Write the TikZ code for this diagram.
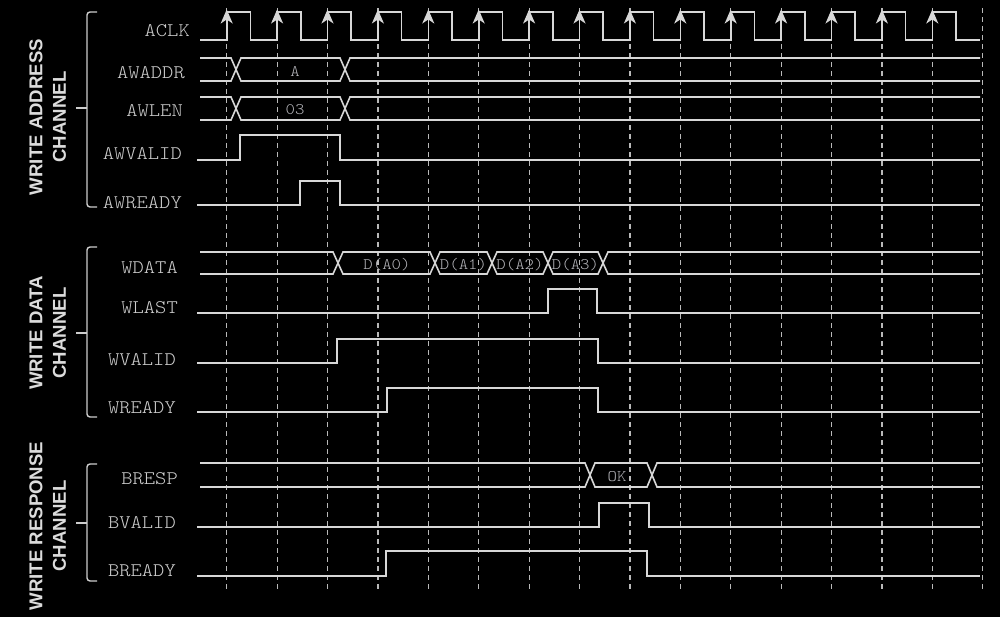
\documentclass[tikz,border=0pt]{standalone}
\usepackage{fontspec}
\newfontfamily\monolt{lmmonolt10-regular}[Extension=.otf,FakeStretch=1.12]
\newfontfamily\chfont{Liberation Sans}
\usetikzlibrary{arrows.meta}
\definecolor{wave}{RGB}{215,215,215}
\definecolor{lbl}{RGB}{205,205,205}
\definecolor{sublbl}{RGB}{180,180,185}
\definecolor{gridc}{RGB}{185,185,185}
\definecolor{chan}{RGB}{220,220,220}
\begin{document}
\begin{tikzpicture}[x=1pt,y=-1pt,
  wv/.style={draw=wave,line width=1.6pt,line join=miter},
  gridline/.style={draw=gridc,line width=1.2pt,dash pattern=on 5pt off 4pt},
  sig/.style={inner sep=0pt,text=lbl,font=\monolt\fontsize{19.2}{19.2}\selectfont,anchor=east},
  val/.style={inner sep=0pt,text=sublbl,font=\monolt\fontsize{16}{16}\selectfont},
  chn/.style={inner sep=0pt,text=chan,rotate=90,align=center,font=\chfont\bfseries\fontsize{18.6}{23.5}\selectfont},
  brk/.style={draw=lbl,line width=1.4pt,rounded corners=3pt},
  clkarrow/.style={draw=wave,line width=1.6pt,-{Stealth[length=14pt,width=12pt,inset=4pt]}}]
\fill[black] (0,0) rectangle (1000,617);
\useasboundingbox (0,0) rectangle (1000,617);

% clock-edge grid
\foreach \k in {0,...,15} \draw[gridline] ({226.7+50.4*\k},8) -- ({226.7+50.4*\k},590);

% channel labels and brackets
\node[chn] (wac) at (47.75,117) {WRITE ADDRESS\\CHANNEL};
\node[chn] (wdc) at (47.75,333) {WRITE DATA\\CHANNEL};
\node[chn] (wrc) at (47.75,526) {WRITE RESPONSE\\CHANNEL};
\draw[brk] (97,12) -- (87,12) -- (87,207) -- (97,207);
\draw[brk] (76,108) -- (87,108);
\draw[brk] (97,247) -- (87,247) -- (87,417) -- (97,417);
\draw[brk] (76,333) -- (87,333);
\draw[brk] (97,464) -- (87,464) -- (87,581) -- (97,581);
\draw[brk] (76,523) -- (87,523);

% signal names
\node[sig] (aclk) at (190,30.5) {ACLK};
\node[sig] (awaddr) at (185,72.5) {AWADDR};
\node[sig] (awlen) at (183,110.5) {AWLEN};
\node[sig] (awvalid) at (182,154) {AWVALID};
\node[sig] (awready) at (182,202.5) {AWREADY};
\node[sig] (wdata) at (178,267.5) {WDATA};
\node[sig] (wlast) at (178,308) {WLAST};
\node[sig] (wvalid) at (176,359.5) {WVALID};
\node[sig] (wready) at (176,407.5) {WREADY};
\node[sig] (bresp) at (178,479) {BRESP};
\node[sig] (bvalid) at (176,522.5) {BVALID};
\node[sig] (bready) at (176,570.5) {BREADY};

% ACLK
\draw[wv] (200,40) foreach \k in {0,...,14} { -- ({226.7+50.4*\k},40) -- ({226.7+50.4*\k},12) -- ({250.3+50.4*\k},12) -- ({250.3+50.4*\k},40) } -- (980,40);
\foreach \k in {0,...,14} \draw[clkarrow] ({226.7+50.4*\k},34) -- ({226.7+50.4*\k},9.5);

% AWADDR
\draw[wv] (200,58) -- (231,58) -- (241,81) -- (340,81) -- (350,58) -- (980,58);
\draw[wv] (200,81) -- (231,81) -- (241,58) -- (340,58) -- (350,81) -- (980,81);
\node[val] (vA) at (295,72) {A};
% AWLEN
\draw[wv] (200,97) -- (231,97) -- (241,120) -- (340,120) -- (350,97) -- (980,97);
\draw[wv] (200,120) -- (231,120) -- (241,97) -- (340,97) -- (350,120) -- (980,120);
\node[val] (v03) at (295,110) {03};
% AWVALID
\draw[wv] (197,160) -- (240,160) -- (240,135) -- (340,135) -- (340,160) -- (980,160);
% AWREADY
\draw[wv] (197,205) -- (300,205) -- (300,181) -- (340,181) -- (340,205) -- (980,205);

% WDATA
\draw[wv] (200,252) -- (333,252) -- (343,274) -- (430,274) -- (440,252) -- (487,252) -- (497,274) -- (543,274) -- (553,252) -- (598,252) -- (608,274) -- (980,274);
\draw[wv] (200,274) -- (333,274) -- (343,252) -- (430,252) -- (440,274) -- (487,274) -- (497,252) -- (543,252) -- (553,274) -- (598,274) -- (608,252) -- (980,252);
\node[val,anchor=base] (d0) at (387,269.5) {D(A0)};
\node[val,anchor=base] (d1) at (463.5,269.5) {D(A1)};
\node[val,anchor=base] (d2) at (520,269.5) {D(A2)};
\node[val,anchor=base] (d3) at (575.5,269.5) {D(A3)};
% WLAST
\draw[wv] (197,313) -- (548,313) -- (548,289) -- (597,289) -- (597,313) -- (980,313);
% WVALID
\draw[wv] (197,363) -- (337,363) -- (337,339) -- (598,339) -- (598,363) -- (980,363);
% WREADY
\draw[wv] (197,412) -- (387,412) -- (387,388) -- (598,388) -- (598,412) -- (980,412);

% BRESP
\draw[wv] (200,463) -- (585,463) -- (595,487) -- (647,487) -- (657,463) -- (980,463);
\draw[wv] (200,487) -- (585,487) -- (595,463) -- (647,463) -- (657,487) -- (980,487);
\node[val] (vok) at (617,476.5) {OK};
% BVALID
\draw[wv] (197,527) -- (599,527) -- (599,503) -- (649,503) -- (649,527) -- (980,527);
% BREADY
\draw[wv] (197,576) -- (386,576) -- (386,551) -- (647,551) -- (647,576) -- (980,576);
\end{tikzpicture}
\end{document}
